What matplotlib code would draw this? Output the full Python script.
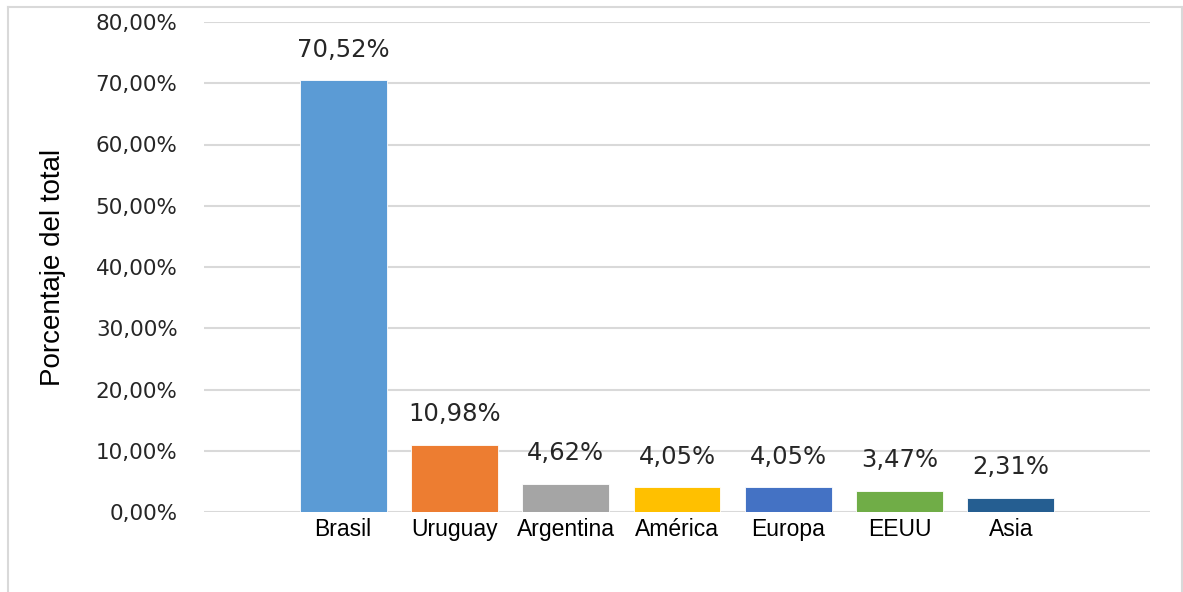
import matplotlib
matplotlib.use('Agg')
import matplotlib.pyplot as plt
from matplotlib.lines import Line2D
from matplotlib.ticker import FuncFormatter, MultipleLocator

# Data
regions = ['Brasil', 'Uruguay', 'Argentina', 'América', 'Europa', 'EEUU', 'Asia']
shares = [70.52, 10.98, 4.62, 4.05, 4.05, 3.47, 2.31]
colors = ['#5B9BD5', '#ED7D31', '#A5A5A5', '#FFC000', '#4472C4', '#70AD47', '#255E91']


def pct(v):
    return ('%.2f%%' % v).replace('.', ',')


W, H = 1183, 592
fig = plt.figure(figsize=(W / 100, H / 100), dpi=100)
ax = fig.add_axes([204 / W, 1 - 512 / H, (1150 - 204) / W, (512 - 22) / H])

x = list(range(len(regions)))
bars = ax.bar(x, shares, width=0.78, color=colors, edgecolor='white',
              linewidth=0.6, zorder=3)

for b, v in zip(bars, shares):
    ax.annotate(pct(v), (b.get_x() + b.get_width() / 2, b.get_height()),
                xytext=(0, 22), textcoords='offset points',
                ha='center', va='center', fontsize=17.5, family='DejaVu Sans',
                color='#262626')

ax.set_xlim(-1.25, 7.25)
ax.set_ylim(0, 80)
ax.yaxis.set_major_locator(MultipleLocator(10))
ax.yaxis.set_major_formatter(FuncFormatter(lambda v, p: pct(v)))
ax.grid(axis='y', color='#D9D9D9', linewidth=1.5, zorder=0)
ax.set_axisbelow(True)
for s in ax.spines.values():
    s.set_visible(False)

ax.set_xticks(x)
ax.set_xticklabels(regions, family='Liberation Sans', fontsize=16.5, color='black')
ax.tick_params(axis='x', length=0, pad=4)
ax.tick_params(axis='y', length=0, pad=19, labelsize=15.5, labelcolor='#262626')
for t in ax.get_yticklabels():
    t.set_family('DejaVu Sans')

ax.set_ylabel('Porcentaje del total', family='Liberation Sans', fontsize=20,
              color='black', labelpad=0)
ax.yaxis.set_label_coords((66 - 204) / (1150 - 204), 0.5)

# light frame around the chart area
fc = '#D9D9D9'
fig.add_artist(Line2D([8 / W, 8 / W], [0, 1 - 7 / H], color=fc, lw=1.5))
fig.add_artist(Line2D([8 / W, 1182 / W], [1 - 7 / H, 1 - 7 / H], color=fc, lw=1.5))
fig.add_artist(Line2D([1182 / W, 1182 / W], [0, 1 - 7 / H], color=fc, lw=1.5))

fig.savefig('out.png', dpi=100)
